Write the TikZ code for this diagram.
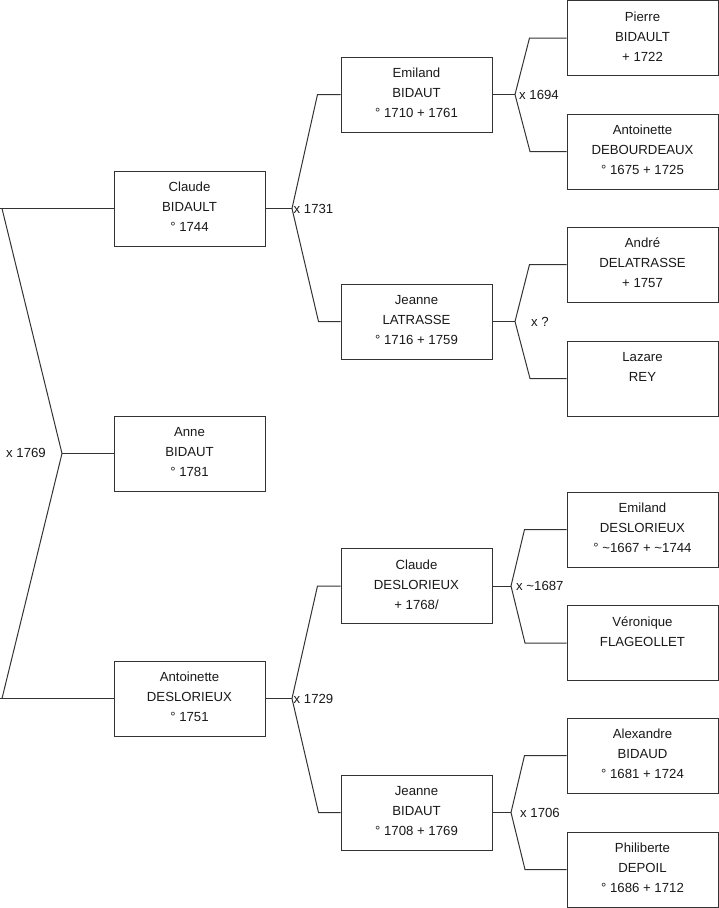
\documentclass[tikz,border=0pt]{standalone}
\usepackage{fontspec}
\setmainfont{Liberation Sans}
\begin{document}
\begin{tikzpicture}[x=1pt,y=-1pt,
  pbox/.style={draw=black!80,line width=1pt,minimum width=151pt,minimum height=75pt,inner sep=0pt},
  ptxt/.style={anchor=north,align=center,inner sep=0pt,font=\fontsize{13.2}{20}\selectfont,text=black!90},
  mlab/.style={anchor=west,inner sep=0pt,font=\fontsize{13.2}{20}\selectfont,text=black!90},
  link/.style={draw=black!80,line width=1pt}]
\useasboundingbox (0,0) rectangle (719,908);
\newcommand\person[3]{%
  \node[pbox] (#1) at (#2) {};
  \node[ptxt] (#1-t) at ([yshift=-11pt]#1.north) {\rule{0pt}{10pt}#3};}
% generation 1
\person{claudeB}{189.5,208.5}{Claude\\BIDAULT\\° 1744}
\person{anne}{189.5,453.5}{Anne\\BIDAUT\\° 1781}
\person{antoinetteDL}{189.5,698.5}{Antoinette\\DESLORIEUX\\° 1751}
% generation 2
\person{emilandB}{416.5,94.5}{Emiland\\BIDAUT\\° 1710 + 1761}
\person{jeanneL}{416.5,321.5}{Jeanne\\LATRASSE\\° 1716 + 1759}
\person{claudeD}{416.5,586}{Claude\\DESLORIEUX\\+ 1768/}
\person{jeanneB}{416.5,812.5}{Jeanne\\BIDAUT\\° 1708 + 1769}
% generation 3
\person{pierre}{642.5,38}{Pierre\\BIDAULT\\+ 1722}
\person{antoinetteDEB}{642.5,151.5}{Antoinette\\DEBOURDEAUX\\° 1675 + 1725}
\person{andre}{642.5,264.5}{André\\DELATRASSE\\+ 1757}
\person{lazare}{642.5,378.5}{Lazare\\REY}
\person{emilandD}{642.5,529.5}{Emiland\\DESLORIEUX\\° \textasciitilde1667 + \textasciitilde1744}
\person{veronique}{642.5,643}{Véronique\\FLAGEOLLET}
\person{alexandre}{642.5,755.5}{Alexandre\\BIDAUD\\° 1681 + 1724}
\person{philiberte}{642.5,869.5}{Philiberte\\DEPOIL\\° 1686 + 1712}
% marriage vertices
\coordinate (m1769) at (62,453.5);
\coordinate (m1731) at (292,208.5);
\coordinate (m1729) at (292,698.5);
\coordinate (m1694) at (515,94.5);
\coordinate (mq) at (515,321.5);
\coordinate (m1687) at (511,586);
\coordinate (m1706) at (511,812.5);
\coordinate (top0) at (0,208.5);
\coordinate (bot0) at (0,698.5);
% connectors generation 1
\path[link] (claudeB.west) -- (top0);
\path[link] (2,208.5) -- (m1769) -- (2,698.5);
\path[link] (antoinetteDL.west) -- (bot0);
\path[link] (m1769) -- (anne.west);
% generation 2
\path[link] (claudeB.east) -- (m1731);
\path[link] (emilandB.west) -- ++(-23,0) -- (m1731) -- (318.5,321.5) -- (jeanneL.west);
\path[link] (antoinetteDL.east) -- (m1729);
\path[link] (claudeD.west) -- ++(-23,0) -- (m1729) -- (318.5,812.5) -- (jeanneB.west);
% generation 3
\path[link] (emilandB.east) -- (m1694);
\path[link] (pierre.west) -- ++(-37,0) -- (m1694) -- (530,151.5) -- (antoinetteDEB.west);
\path[link] (jeanneL.east) -- (mq);
\path[link] (andre.west) -- ++(-37,0) -- (mq) -- (530,378.5) -- (lazare.west);
\path[link] (claudeD.east) -- (m1687);
\path[link] (emilandD.west) -- ++(-42,0) -- (m1687) -- (525,643) -- (veronique.west);
\path[link] (jeanneB.east) -- (m1706);
\path[link] (alexandre.west) -- ++(-42,0) -- (m1706) -- (525,869.5) -- (philiberte.west);
% marriage labels
\node[mlab,anchor=east] (l1769) at (46,453) {x 1769};
\node[mlab] (l1731) at (293.5,208.5) {x 1731};
\node[mlab] (l1729) at (293.5,698.5) {x 1729};
\node[mlab] (l1694) at (519,94.5) {x 1694};
\node[mlab] (lq) at (531,321.5) {x ?};
\node[mlab] (l1687) at (516,586) {x \textasciitilde1687};
\node[mlab] (l1706) at (520,812.5) {x 1706};
\end{tikzpicture}
\end{document}
